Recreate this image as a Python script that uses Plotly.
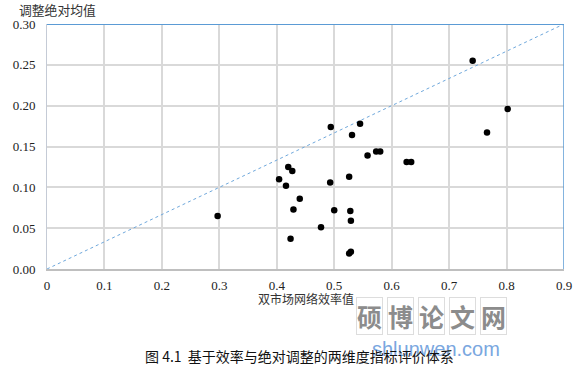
import plotly.graph_objects as go

# data
eff = [0.297, 0.404, 0.416, 0.420, 0.427, 0.440, 0.429, 0.424, 0.477, 0.493,
       0.494, 0.500, 0.526, 0.528, 0.529, 0.529, 0.526, 0.531, 0.545, 0.558,
       0.573, 0.580, 0.626, 0.634, 0.741, 0.766, 0.802]
adj = [0.065, 0.110, 0.102, 0.125, 0.120, 0.086, 0.073, 0.037, 0.051, 0.106,
       0.174, 0.072, 0.113, 0.071, 0.059, 0.021, 0.019, 0.164, 0.178, 0.139,
       0.144, 0.144, 0.131, 0.131, 0.255, 0.167, 0.196]
diag_x = [0, 0.9]
diag_y = [0, 0.3]
x_ticks = [0, 0.1, 0.2, 0.3, 0.4, 0.5, 0.6, 0.7, 0.8, 0.9]
x_labels = ["0", "0.1", "0.2", "0.3", "0.4", "0.5", "0.6", "0.7", "0.8", "0.9"]
y_ticks = [0, 0.05, 0.10, 0.15, 0.20, 0.25, 0.30]
y_labels = ["0.00", "0.05", "0.10", "0.15", "0.20", "0.25", "0.30"]
x_title = "双市场网络效率值"
y_title = "调整绝对均值"
caption = "图 4.1  基于效率与绝对调整的两维度指标评价体系"
wm_chars = ["硕", "博", "论", "文", "网"]
wm_url = "shlunwen.com"

fig = go.Figure()
fig.add_trace(go.Scatter(x=diag_x, y=diag_y, mode="lines",
                         line=dict(color="#6fa8dc", width=1, dash="dot"),
                         hoverinfo="skip", showlegend=False))
fig.add_trace(go.Scatter(x=eff, y=adj, mode="markers",
                         marker=dict(color="black", size=6.5),
                         showlegend=False))

serif = "'Liberation Serif', 'Times New Roman', serif"
cjk = "'Noto Sans CJK SC', sans-serif"

fig.update_layout(
    width=578, height=369,
    margin=dict(l=47, r=14, t=24, b=100),
    paper_bgcolor="white", plot_bgcolor="white",
    xaxis=dict(range=[0, 0.9], tickvals=x_ticks, ticktext=x_labels,
               showgrid=True, gridcolor="#d9d9d9", gridwidth=1.5,
               zeroline=False, showline=True, linecolor="#bfbfbf", linewidth=2,
               ticks="", tickfont=dict(family=serif, size=13, color="#222"),
               ticklabelstandoff=3, automargin=False),
    yaxis=dict(range=[0, 0.3], tickvals=y_ticks, ticktext=y_labels,
               showgrid=True, gridcolor="#d9d9d9", gridwidth=1.5,
               zeroline=False, showline=True, linecolor="#c5cbd6", linewidth=1,
               ticks="", tickfont=dict(family=serif, size=13, color="#222"),
               ticklabelstandoff=8, automargin=False),
    shapes=[
        dict(type="line", xref="x", yref="y", x0=0, x1=0.9, y0=0.3, y1=0.3,
             line=dict(color="#5b9bd5", width=2)),
        dict(type="line", xref="x", yref="y", x0=0.9, x1=0.9, y0=0, y1=0.3,
             line=dict(color="#5b9bd5", width=1.5)),
    ],
)

ann = [
    dict(text=y_title, x=17, y=10, xanchor="left", yanchor="middle",
         font=dict(family=cjk, size=12.8, color="#333")),
    dict(text=x_title, x=306, y=298, xanchor="center", yanchor="middle",
         font=dict(family=cjk, size=12, color="#333")),
    dict(text=wm_url, x=436, y=349, xanchor="center", yanchor="middle",
         font=dict(family="'Liberation Sans', Arial, sans-serif", size=20, color="#7aa7e0")),
    dict(text=caption, x=299, y=356, xanchor="center", yanchor="middle",
         font=dict(family=cjk, size=14, color="#111")),
]
for i, ch in enumerate(wm_chars):
    ann.append(dict(text="<b>" + ch + "</b>", x=369 + i * 31, y=316,
                    xanchor="center", yanchor="middle",
                    font=dict(family=cjk, size=25, color="#8c8c8c"),
                    bordercolor="#dddddd", borderwidth=1, borderpad=0))

def to_paper(a):
    a = dict(a)
    a["xref"] = "paper"; a["yref"] = "paper"
    pw = 578 - 47 - 14; ph = 369 - 24 - 100
    a["x"] = (a["x"] - 47) / pw
    a["y"] = (369 - 100 - a["y"]) / ph
    a["showarrow"] = False
    return a

fig.update_layout(annotations=[to_paper(a) for a in ann])
fig.write_html("out.html", config={"displayModeBar": False},
               post_script="document.body.style.margin='0';document.body.style.padding='0';")
